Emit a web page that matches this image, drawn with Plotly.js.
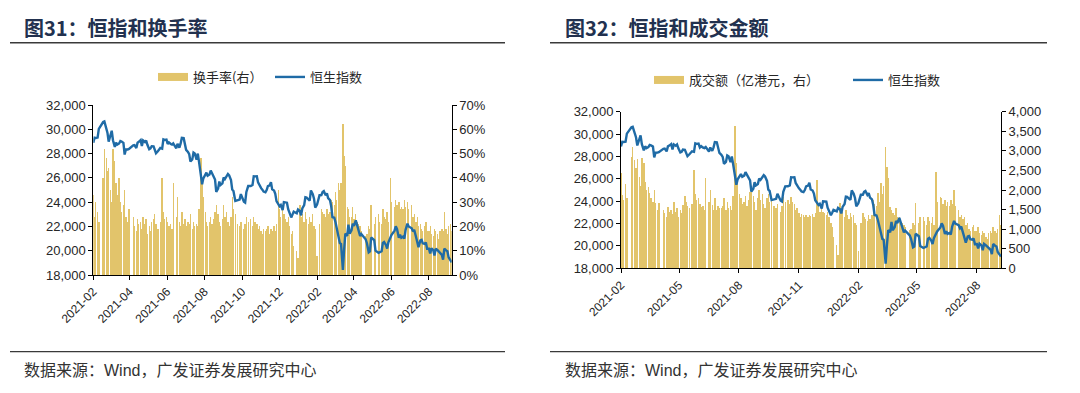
<!DOCTYPE html>
<html><head><meta charset="utf-8">
<script src="https://cdn.plot.ly/plotly-3.0.1.min.js"></script>
<style>html,body{margin:0;padding:0;background:#fff;}#chart{width:1080px;height:393px;}</style>
</head><body><div id="chart"></div>
<script>
// Sampling calendar: Mon / Wed / Fri from 2021-02-01 to 2022-09-07
const firstDay = '2021-02-01';
const lastDay = '2022-09-07';
const sampleWeekdays = [0, 2, 4];

// 恒生指数 (null = HK market holiday)
const hsi = [
28893,29307,29289, 29319,30038,null, null,30600,30644, 30156,29718,28980,
29452,29880,29098, 28540,28907,28739, 28833,29034,28990, 28885,27918,28336, 28338,28378,null,
null,28675,28698, 28453,28900,28970, 29106,28622,29078, 28953,29071,28725,
28357,28418,28610, 28595,28231,28027, 28194,null,28458, 28412,29166,29124, 29151,28797,28918,
28787,28742,28842, null,28436,28801, 28489,28817,29288, 29268,28828,28310,
28143,27960,27344, 27515,28079,28004, 27489,28000,27321, 26192,25473,25961,
26235,26426,26179, 26283,26605,26391, 26181,25867,24849, 25110,25693,25408, 25539,26028,25901,
26163,26320,26205, 25813,25033,24920, 24099,null,24192, 24208,24663,null,
24036,23966,24837, 25325,null,25330, 25409,26136,26126, 26133,25628,25377,
25154,25024,24870, 24813,24997,25327, 25391,25650,25050, 24952,24685,24080, 23852,23658,23767,
23349,23996,23996, 23955,23420,23193, 22744,22971,23223, null,23086,23397,
23274,22907,23493, 23747,24402,24383, 24218,24127,24966, 24656,24289,23550, 23802,null,24573,
24579,24830,24906, 24556,24718,24328, 24170,23660,22767, 22713,22344,21906,
21057,20627,20554, 18415,20087,21412, 21221,22154,21405, 21684,22232,22040,
22502,22080,21873, 21208,21374,null, null,20945,20639, 19869,19946,21089,
null,20870,20002, null,19824,19899, 19950,20644,20717, 20471,20171,20697, 21123,21294,null,
21654,22014,21806, 21067,21308,21075, 21163,21008,21719, 22229,21996,null,
21853,21587,21725, 21124,20797,20297, 20846,20890,20609, 20562,20670,20156,
20165,19767,20202, 20045,19610,20175, 20040,19922,19773, 19657,19268,20170, 20023,19954,19452,
19225,19044
];

// 换手率 (%, 右轴)
const turnoverRate = [
33,24,30, 26,22,null, null,40,52, 48,43,44,
35,30,52, 47,38,33, 40,30,26, 29,35,24, 22,27,null,
null,24,20, 18,23,21, 22,19,24, 21,23,17,
20,18,22, 23,25,21, 19,null,22, 40,26,23, 24,22,20,
21,19,38, null,24,32, 22,20,26, 21,23,20,
22,21,25, 19,22,20, 21,20,27, 48,38,32,
26,22,20, 22,24,21, 23,26,29, 25,22,20, 23,29,24,
26,22,20, 24,32,27, 25,null,21, 20,22,null,
19,21,24, 22,null,23, 20,24,22, 21,19,20,
18,17,19, 18,19,20, 17,19,18, 20,18,21, 35,27,24,
28,25,23, 22,24,20, 17,18,12, null,10,7,
29,24,25, 22,26,23, 21,24,22, 25,20,19, 8,null,21,
27,26,25, 24,27,25, 26,31,30, 29,34,31,
38,35,38, 62,49,45, 28,27,24, 24,28,23,
25,22,21, 20,18,null, null,16,17, 20,19,29,
null,21,24, null,25,22, 21,27,24, 23,26,22, 40,30,null,
28,31,29, 30,27,28, 27,31,28, 30,27,null,
29,24,25, 22,24,20, 21,19,18, 20,22,18,
18,20,17, 16,19,18, 17,15,18, 19,18,26, 19,17,20,
21,18
];

// 成交额 (亿港元, 右轴)
const turnoverValue = [
2430,1870,1750, 2150,1800,null, null,2850,3100, 2770,2550,2800,
2340,2100,2810, 2700,2200,2000, 2085,1915,1800, 1700,2000,1660, 1500,1660,null,
null,1490,1400, 1320,1560,1450, 1500,1380,1700, 1450,1550,1300,
1500,1420,1620, 1850,1700,1600, 1550,null,1650, 2500,1900,1750, 1800,1650,1560,
1600,1480,2300, null,1700,2000, 1620,1500,1800, 1500,1600,1550,
1550,1600,1800, 1500,1700,1550, 1600,1500,1850, 3630,2700,2300,
1900,1800,1650, 1700,1850,1600, 1750,1950,2000, 1850,1700,1500, 1800,2000,1750,
1900,1650,1550, 1800,1900,1700, 1850,null,1600, 1550,1650,null,
1450,1600,1830, 1700,null,1750, 1650,1830,1700, 1650,1500,1550,
1400,1320,1380, 1350,1320,1360, 1300,1360,1340, 1380,1300,1420, 2250,1600,1450,
1570,1450,1400, 1350,1450,1320, 1150,1050,800, null,600,350,
1660,1400,1450, 1300,1500,1350, 1250,1400,1300, 1350,1150,1100, 450,null,1150,
1400,1300,1250, 1200,1350,1250, 1350,1740,1650, 1600,1915,1700,
2170,1900,2100, 3100,2590,2300, 1570,1500,1400, 1350,1550,1300,
1300,1200,1150, 1100,1050,null, null,980,1000, 1150,1100,1660,
null,1150,1300, null,1320,1200, 1100,1300,1200, 1150,1320,1100, 2470,1700,null,
1830,1800,1650, 1750,1600,1700, 1600,1750,1650, 2000,1600,null,
1500,1300,1350, 1250,1320,1100, 1150,1000,950, 1050,1100,950,
950,1050,900, 850,950,900, 800,750,900, 950,900,1060, 950,900,1000,
1360,1100
];

const legendNames = {
  rate: '换手率(右）',
  value: '成交额（亿港元，右）',
  index: '恒生指数'
};
const titles = ['图31：恒指和换手率', '图32：恒指和成交金额'];
const sourceText = '数据来源：Wind，广发证券发展研究中心';

function buildDates(){
  const out = [];
  const start = new Date(firstDay + 'T00:00:00Z');
  const end = new Date(lastDay + 'T00:00:00Z');
  for (let w = start.getTime(); w <= end.getTime(); w += 7*864e5){
    for (const off of sampleWeekdays){
      const t = w + off*864e5;
      if (t <= end.getTime()) out.push(new Date(t).toISOString().slice(0,10));
    }
  }
  return out;
}
const dates = buildDates();

const W = 1080, H = 393;
const px = v => v / W;
const py = v => 1 - v / H;

const BAR = '#E2C46B';
const LINE = '#1F6BA6';
const TICKFONT = {family: 'Liberation Sans, Arial, sans-serif', size: 13, color: '#262626'};
const XTICKFONT = {family: 'Liberation Sans, Arial, sans-serif', size: 12, color: '#262626'};
const CJK = 'Noto Sans CJK SC, sans-serif';
const barWidth = 2.2 * 864e5;

const traces = [
  {type:'bar', x:dates, y:turnoverRate, xaxis:'x', yaxis:'y', marker:{color:BAR, line:{width:0}}, width:barWidth, showlegend:false, hoverinfo:'skip'},
  {type:'scatter', mode:'lines', x:[null], y:[null], xaxis:'x', yaxis:'y', name:legendNames.rate, line:{color:BAR, width:8}, legend:'legend', showlegend:true},
  {type:'scatter', mode:'lines', x:dates, y:hsi, xaxis:'x', yaxis:'y2', name:legendNames.index, line:{color:LINE, width:2.4}, connectgaps:true, legend:'legend2', showlegend:true},
  {type:'bar', x:dates, y:turnoverValue, xaxis:'x2', yaxis:'y3', marker:{color:BAR, line:{width:0}}, width:barWidth, showlegend:false, hoverinfo:'skip'},
  {type:'scatter', mode:'lines', x:[null], y:[null], xaxis:'x2', yaxis:'y3', name:legendNames.value, line:{color:BAR, width:8}, legend:'legend3', showlegend:true},
  {type:'scatter', mode:'lines', x:dates, y:hsi, xaxis:'x2', yaxis:'y4', name:legendNames.index, line:{color:LINE, width:2.4}, connectgaps:true, legend:'legend4', showlegend:true}
];

const axisCommon = {showgrid:false, zeroline:false, showline:true, linecolor:'#000', linewidth:1, ticks:'outside', ticklen:4, tickcolor:'#000', automargin:false, fixedrange:true};

function legendAt(x, y){
  return {x:px(x), y:py(y), xanchor:'left', yanchor:'middle', orientation:'h', bgcolor:'rgba(0,0,0,0)', borderwidth:0, itemwidth:30, font:{family:CJK, size:13, color:'#262626'}};
}

const layout = {
  width:W, height:H, margin:{l:0,r:0,t:0,b:0}, paper_bgcolor:'#fff', plot_bgcolor:'rgba(0,0,0,0)',
  bargap:0, barmode:'overlay',
  xaxis: Object.assign({}, axisCommon, {domain:[px(93.3), px(451.7)], anchor:'y', type:'date', range:[firstDay, lastDay], tick0:firstDay, dtick:'M2', tickformat:'%Y-%m', tickangle:-45, tickfont:XTICKFONT}),
  yaxis: Object.assign({}, axisCommon, {domain:[py(275), py(105)], anchor:'x', side:'right', range:[0,70], dtick:10, ticksuffix:'%', tickfont:TICKFONT}),
  yaxis2: Object.assign({}, axisCommon, {overlaying:'y', anchor:'x', side:'left', range:[18000,32000], dtick:2000, tickformat:',d', tickfont:TICKFONT}),
  xaxis2: Object.assign({}, axisCommon, {domain:[px(621), px(1001)], anchor:'y3', type:'date', range:[firstDay, lastDay], tick0:firstDay, dtick:'M3', tickformat:'%Y-%m', tickangle:-45, tickfont:XTICKFONT}),
  yaxis3: Object.assign({}, axisCommon, {domain:[py(268.3), py(111.7)], anchor:'x2', side:'right', range:[0,4000], dtick:500, tickformat:',d', tickfont:TICKFONT}),
  yaxis4: Object.assign({}, axisCommon, {overlaying:'y3', anchor:'x2', side:'left', range:[18000,32000], dtick:2000, tickformat:',d', tickfont:TICKFONT}),
  legend: legendAt(153, 77),
  legend2: legendAt(270, 77),
  legend3: legendAt(649, 80),
  legend4: legendAt(848, 80),
  shapes: [
    {type:'line', xref:'paper', yref:'paper', x0:px(10), x1:px(505), y0:py(42.7), y1:py(42.7), line:{color:'#3a3a3a', width:1.5}},
    {type:'line', xref:'paper', yref:'paper', x0:px(550), x1:px(1047), y0:py(42.7), y1:py(42.7), line:{color:'#3a3a3a', width:1.5}},
    {type:'line', xref:'paper', yref:'paper', x0:px(10), x1:px(505), y0:py(351.7), y1:py(351.7), line:{color:'#3a3a3a', width:1.2}},
    {type:'line', xref:'paper', yref:'paper', x0:px(550), x1:px(1047), y0:py(351.7), y1:py(351.7), line:{color:'#3a3a3a', width:1.2}}
  ],
  annotations: [
    {text:titles[0], xref:'paper', yref:'paper', x:px(22), y:py(28), xanchor:'left', yanchor:'middle', showarrow:false, font:{family:CJK, size:20, color:'#22314F', weight:700}},
    {text:titles[1], xref:'paper', yref:'paper', x:px(563), y:py(28), xanchor:'left', yanchor:'middle', showarrow:false, font:{family:CJK, size:20, color:'#22314F', weight:700}},
    {text:sourceText, xref:'paper', yref:'paper', x:px(22), y:py(370), xanchor:'left', yanchor:'middle', showarrow:false, font:{family:'Liberation Sans, Noto Sans CJK SC, sans-serif', size:16, color:'#333'}},
    {text:sourceText, xref:'paper', yref:'paper', x:px(563), y:py(370), xanchor:'left', yanchor:'middle', showarrow:false, font:{family:'Liberation Sans, Noto Sans CJK SC, sans-serif', size:16, color:'#333'}}
  ]
};

Plotly.newPlot('chart', traces, layout, {staticPlot:true, displayModeBar:false});
</script>
</body></html>
